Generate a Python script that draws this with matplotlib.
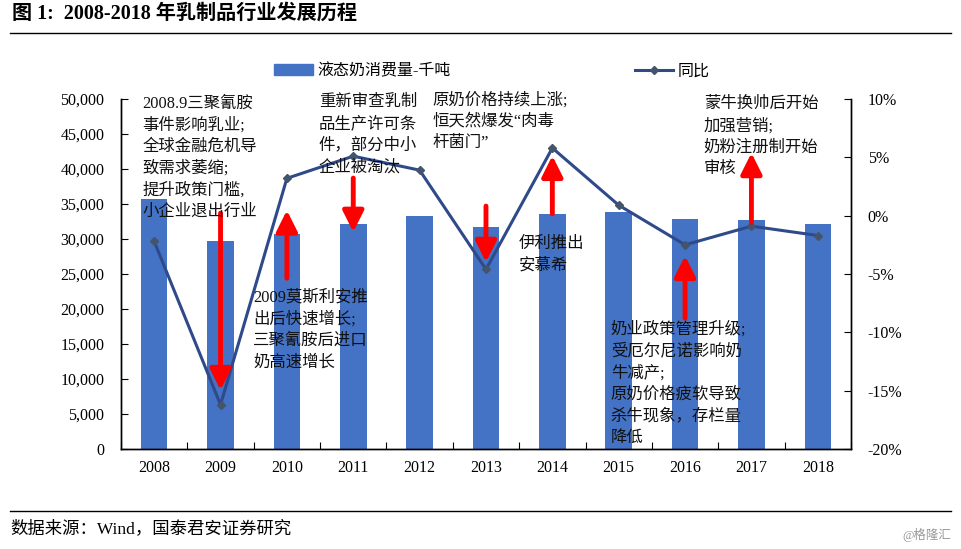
import matplotlib
matplotlib.use("Agg")
import matplotlib.pyplot as plt
from matplotlib.lines import Line2D
from matplotlib.patches import Patch
from matplotlib.ticker import FuncFormatter

plt.rcParams['font.family'] = ['Liberation Serif', 'Noto Sans CJK SC', 'DejaVu Sans']

years = ["2008", "2009", "2010", "2011", "2012", "2013", "2014", "2015", "2016", "2017", "2018"]
consumption = [35700, 29700, 30700, 32100, 33300, 31700, 33500, 33900, 32900, 32700, 32100]
yoy = [-2.2, -16.2, 3.2, 5.1, 3.9, -4.6, 5.8, 0.9, -2.5, -0.9, -1.7]

# arrows: (category index, start value, end value) on left axis scale
arrows = [(1, 33700, 8400), (2, 24400, 34100), (3, 38700, 31000), (5, 34700, 26700),
          (6, 33600, 41900), (8, 18700, 27600), (9, 32400, 42300)]

notes = [
    (-0.18, 50500, "2008.9三聚氰胺\n事件影响乳业;\n全球金融危机导\n致需求萎缩;\n提升政策门槛,\n小企业退出行业"),
    (2.48, 50700, "重新审查乳制\n品生产许可条\n件，部分中小\n企业被淘汰"),
    (4.19, 51000, "原奶价格持续上涨;\n恒天然爆发“肉毒\n杆菌门”"),
    (8.28, 50400, "蒙牛换帅后开始\n加强营销;\n奶粉注册制开始\n审核"),
    (5.5, 30400, "伊利推出\n安慕希"),
    (1.49, 22800, "2009莫斯利安推\n出后快速增长;\n三聚氰胺后进口\n奶高速增长"),
    (6.88, 18200, "奶业政策管理升级;\n受厄尔尼诺影响奶\n牛减产;\n原奶价格疲软导致\n杀牛现象，存栏量\n降低"),
]

bar_color = "#4472C4"
line_color = "#2F4A8A"

fig = plt.figure(figsize=(9.61, 5.49), dpi=100)
ax = fig.add_axes([0.1259, 0.1821, 0.7596, 0.6376])
ax2 = ax.twinx()

x = list(range(len(years)))
ax.bar(x, consumption, width=0.4, color=bar_color, zorder=2)
ax2.plot(x, yoy, color=line_color, lw=2.2, marker="D", markersize=4.5,
         markerfacecolor="#44546A", markeredgecolor="#44546A", zorder=3)

ax.set_xlim(-0.5, len(years) - 0.5)
ax.set_ylim(0, 50000)
ax.set_yticks(range(0, 50001, 5000))
ax.yaxis.set_major_formatter(FuncFormatter(lambda v, p: f"{int(v):,}"))
ax2.set_ylim(-20, 10)
ax2.set_yticks(range(-20, 11, 5))
ax2.yaxis.set_major_formatter(FuncFormatter(lambda v, p: f"{int(v)}%"))

# category boundaries as tick marks, labels at centers
ax.set_xticks([i - 0.5 for i in range(len(years) + 1)])
ax.set_xticklabels([])
ax.set_xticks(x, minor=True)
ax.set_xticklabels(years, minor=True)
ax.tick_params(axis="x", which="major", direction="in", length=5)
ax.tick_params(axis="x", which="minor", length=0, pad=8, labelsize=11.5)
ax.tick_params(axis="y", direction="in", length=5, labelsize=11.5, pad=12)
ax2.tick_params(axis="y", direction="in", length=5, labelsize=11.5, pad=12)

for a in (ax, ax2):
    a.spines["top"].set_visible(False)
    for s in ("left", "right", "bottom"):
        a.spines[s].set_linewidth(1.0)

for xi, y0, y1 in arrows:
    ax2.annotate("", xy=(xi, y1), xytext=(xi, y0), xycoords=ax.transData, textcoords=ax.transData,
                 arrowprops=dict(arrowstyle="-|>,head_width=0.45,head_length=0.9", color="red",
                                 lw=3.5, mutation_scale=14, shrinkA=0, shrinkB=0), zorder=4)

# one text per line so the spacing stays even across mixed fonts
for xi, yi, s in notes:
    for i, line in enumerate(s.split("\n")):
        ax2.annotate(line, xy=(xi, yi), xycoords=ax.transData, xytext=(0, -15.6 * i),
                     textcoords="offset points", ha="left", va="top", fontsize=11.8,
                     color="#111111", zorder=5)

handles = [Patch(color=bar_color),
           Line2D([0], [0], color=line_color, lw=2.2, marker="D", markersize=4.5,
                  markerfacecolor="#44546A", markeredgecolor="#44546A")]
fig.legend(handles, ["液态奶消费量-千吨", "同比"], loc="center", bbox_to_anchor=(0.512, 0.87),
           ncol=2, frameon=False, fontsize=11.5, columnspacing=11.5, handlelength=2.4,
           handletextpad=0.3)

fig.text(0.012, 1 - 14 / 549, "图 1:  2008-2018 年乳制品行业发展历程", fontsize=14.5,
         fontweight="bold", va="center", ha="left")
fig.add_artist(Line2D([0.01, 0.99], [1 - 33 / 549] * 2, transform=fig.transFigure, color="black", lw=1))
fig.add_artist(Line2D([0.01, 0.99], [1 - 511 / 549] * 2, transform=fig.transFigure, color="black", lw=1))
fig.text(0.011, 1 - 529 / 549, "数据来源：Wind，国泰君安证券研究", fontsize=12.5, va="center", ha="left")
fig.text(0.99, 1 - 535 / 549, "@格隆汇", fontsize=9, color="#999999", va="center", ha="right")

fig.savefig("out.png", dpi=100)
